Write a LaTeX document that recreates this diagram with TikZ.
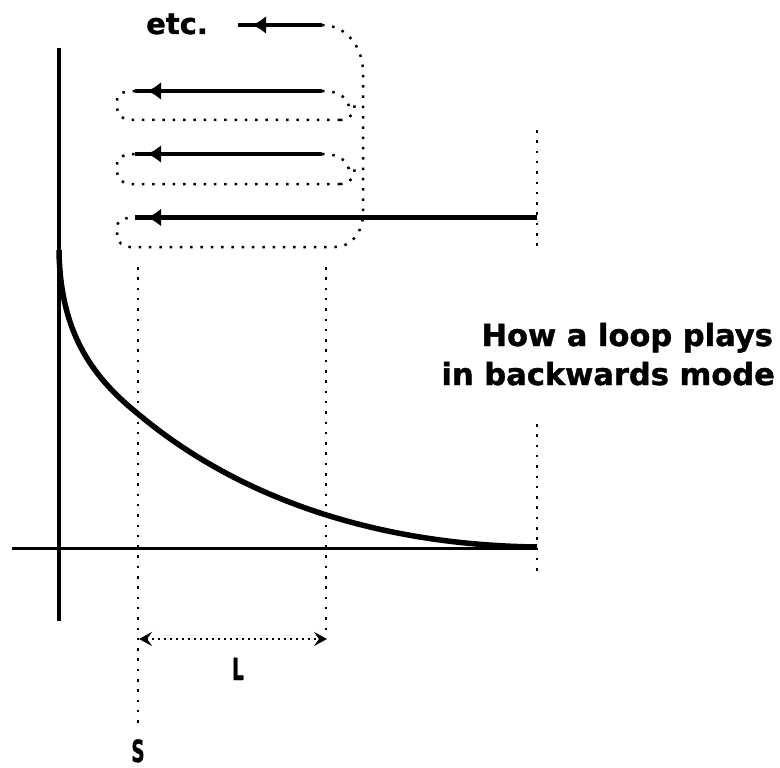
\documentclass[tikz,border=0pt]{standalone}
\usepackage{fontspec}
\setmainfont{DejaVu Sans}
\newfontfamily\heavyfont[FakeBold=1.2]{DejaVu Sans}
\usetikzlibrary{arrows.meta,decorations.markings}
\begin{document}
\begin{tikzpicture}[x=1pt,y=-1pt,
  dots/.style={line width=2.5pt, dash pattern=on 2.5pt off 7.8pt},
  finedots/.style={line width=1.8pt, dash pattern=on 1.8pt off 4.2pt},
  lbl/.style={font=\heavyfont\bfseries\fontsize{30.5}{34}\selectfont, inner sep=0pt},
  playarrow/.style={line width=4.6pt, postaction={decorate},
    decoration={markings, mark=at position -#1 with {\arrow{Latex[length=14pt,width=18pt]}}}},
  playarrow/.default=12pt,
  dimtip/.tip={Stealth[length=13pt,width=14pt,inset=5pt]},
]
\useasboundingbox (0,0) rectangle (780,768);

% axes
\coordinate (ytop) at (59,48);
\coordinate (ybot) at (59,621);
\coordinate (xl) at (12,548);
\coordinate (xr) at (537,548);
\draw[line width=4pt] (ytop) -- (ybot);
\draw[line width=3pt] (xl) -- (xr);

% decay curve
\draw[line width=5.5pt] (59,250) .. controls (60,330) and (90,375) .. (137,413)
  .. controls (240,500) and (380,545) .. (537,547);

% play arrows
\coordinate (a0r) at (322,25);  \coordinate (a0l) at (238,25);
\coordinate (a1r) at (322,91);  \coordinate (a1l) at (135,91);
\coordinate (a2r) at (322,154); \coordinate (a2l) at (135,154);
\coordinate (a3r) at (537,217.5); \coordinate (a3l) at (135,217.5);
\draw[playarrow=14pt] (a0r) -- (a0l);
\draw[playarrow] (a1r) -- (a1l);
\draw[playarrow] (a2r) -- (a2l);
\draw[playarrow] (a3r) -- (a3l);

\node[lbl, font=\heavyfont\bfseries\fontsize{29}{32}\selectfont, anchor=base west] (etc) at (146,34) {etc.};

% dotted loop paths
\draw[dots] (a0r) to[out=0,in=90] (363,72) -- (363,214) to[out=-90,in=0] (335,247)
  -- (130,247) to[out=180,in=-90] (117,235) -- (117,227) to[out=90,in=180] (a3l);
\draw[dots] (340,120) -- (130,120) to[out=180,in=-90] (117,108) -- (117,100) to[out=90,in=180] (a1l);
\draw[dots] (340,184) -- (130,184) to[out=180,in=-90] (117,172) -- (117,164) to[out=90,in=180] (a2l);
% junctions on the right
\draw[dots] (a1r) .. controls (340,91) and (349,98) .. (350,112);
\draw[dots] (340,120) .. controls (351,120) and (355,112) .. (355,100);
\draw[dots] (a2r) .. controls (340,154) and (349,161) .. (350,175);
\draw[dots] (340,184) .. controls (351,184) and (355,176) .. (355,164);

% vertical dotted guides
\coordinate (s1) at (138,267); \coordinate (s2) at (138,730);
\coordinate (l1) at (326,267); \coordinate (l2) at (326,636);
\draw[dots] (s1) -- (s2);
\draw[dots] (l1) -- (l2);
\draw[dots] (537,130) -- (537,250);
\draw[dots] (537,424) -- (537,574);

% L dimension
\coordinate (d1) at (139,639); \coordinate (d2) at (327,639);
\draw[finedots, dimtip-dimtip] (d1) -- (d2);

\node[lbl, anchor=base] (L) at (238,680) {\scalebox{0.6}[1]{L}};
\node[lbl, anchor=base] (S) at (138,762) {\scalebox{0.6}[1]{S}};

\node[lbl, anchor=base east] (t1) at (773,346) {How a loop plays};
\node[lbl, anchor=base east] (t2) at (775,385) {in backwards mode};
\end{tikzpicture}
\end{document}
